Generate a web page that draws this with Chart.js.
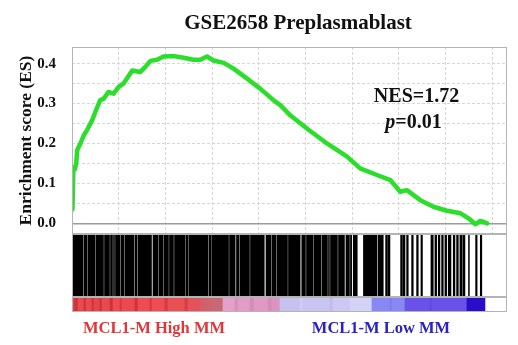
<!DOCTYPE html>
<html><head><meta charset="utf-8">
<script src="https://cdn.jsdelivr.net/npm/chart.js@4.4.1/dist/chart.umd.min.js"></script>
<style>
html,body{margin:0;padding:0;background:#fff;}
#wrap{position:relative;width:518px;height:345px;overflow:hidden;background:#fff;}
canvas{position:absolute;left:0;}
</style></head><body>
<div id="wrap">
<canvas id="es" width="518" height="246" style="top:0px"></canvas>
<canvas id="hits" width="518" height="70" style="top:230px"></canvas>
<canvas id="metric" width="518" height="51" style="top:294px"></canvas>
</div>
<script>
// ---------- data ----------
const titleText = 'GSE2658 Preplasmablast';
const yAxisTitle = 'Enrichment score (ES)';
const nesText = 'NES=1.72';
const pName = 'p';
const pValueText = '=0.01';
const groupLabels = ['MCL1-M High MM', 'MCL1-M Low MM'];

const rankMax = 9315;
const rankTicks = [0, 1000, 2000, 3000, 4000, 5000, 6000, 7000, 8000, 9000];
const esTicks = [0, 0.05, 0.1, 0.15, 0.2, 0.25, 0.3, 0.35, 0.4];

const esRanks = [10, 30, 60, 90, 110, 180, 250, 320, 430, 500, 600, 680, 780, 890, 1000, 1100, 1290, 1460, 1570, 1680, 1820, 1960, 2180, 2390, 2600, 2750, 2890, 3030, 3250, 3460, 3750, 4030, 4320, 4460, 4680, 5030, 5460, 5890, 6170, 6530, 6820, 7030, 7170, 7460, 7740, 8030, 8320, 8490, 8640, 8740, 8800, 8890];
const esValues = [0.035, 0.14, 0.135, 0.15, 0.183, 0.2, 0.22, 0.233, 0.258, 0.279, 0.308, 0.3125, 0.329, 0.325, 0.342, 0.35, 0.383, 0.379, 0.392, 0.407, 0.41, 0.418, 0.419, 0.415, 0.41, 0.41, 0.418, 0.408, 0.402, 0.3875, 0.3625, 0.3375, 0.308, 0.296, 0.27, 0.2375, 0.2, 0.167, 0.1375, 0.121, 0.108, 0.079, 0.083, 0.058, 0.0415, 0.0315, 0.025, 0.0125, -0.0025, 0.006, 0.004, 0.0];

const hitStart = [0, 253, 338, 518, 696, 824, 889, 931, 1053, 1130, 1349, 1413, 1734, 1858, 1965, 2087, 2195, 2447, 2499, 2933, 2993, 3351, 3389, 3522, 3593, 3822, 4154, 4286, 4393, 4635, 4920, 5021, 5177, 5357, 5492, 5535, 5706, 5866, 5963, 6023, 6241, 6551, 6716, 6772, 7037, 7093, 7166, 7273, 7380, 7472, 7686, 7772, 7843, 7915, 7986, 8057, 8164, 8236, 8307, 8378, 8491, 8643, 8743];
const hitEnd   = [231, 317, 497, 674, 803, 867, 910, 1032, 1109, 1327, 1392, 1702, 1837, 1944, 2066, 2173, 2426, 2477, 2912, 2976, 3336, 3372, 3494, 3571, 3800, 4117, 4265, 4372, 4614, 4886, 4999, 5156, 5335, 5470, 5513, 5684, 5834, 5941, 5988, 6108, 6524, 6665, 6755, 6808, 7076, 7130, 7200, 7307, 7414, 7504, 7736, 7808, 7879, 7950, 8022, 8115, 8200, 8272, 8357, 8414, 8509, 8675, 8775];

const metricBreaks = [0, 64, 128, 257, 300, 428, 471, 599, 642, 814, 878, 1028, 1071, 1349, 1413, 1670, 1713, 1991, 2055, 2419, 2484, 2740, 2847, 2998, 3233, 3490, 3554, 3811, 3897, 4197, 4282, 4454, 4882, 4946, 5524, 5589, 5952, 6423, 6808, 6851, 7130, 7665, 7708, 8457, 8843];
const metricValues = [0.9, 1.0, 0.82, 1.0, 0.82, 1.0, 0.85, 1.0, 0.82, 1.0, 0.8, 0.95, 0.82, 1.0, 0.8, 0.95, 0.8, 0.95, 0.78, 0.92, 0.75, 0.68, 0.64, 0.6, 0.42, 0.32, 0.4, 0.3, 0.38, 0.3, 0.35, 0.12, 0.06, 0.1, 0.15, 0.08, 0.02, -0.2, -0.26, -0.2, -0.45, -0.5, -0.45, -0.85];

// ---------- styles ----------
const SERIF = '"Liberation Serif", "Times New Roman", serif';
const frameColor = '#b4b4b4';
const palette = [[1.0,[206,50,56]],[0.8,[236,76,82]],[0.6,[200,104,116]],[0.42,[228,160,200]],[0.3,[212,140,184]],[0.12,[198,194,240]],[0.0,[214,214,250]],[-0.2,[136,136,244]],[-0.45,[104,82,234]],[-0.85,[40,14,200]]];
function metricColor(v) {
  if (v >= palette[0][0]) return 'rgb(' + palette[0][1].join(',') + ')';
  for (let i = 0; i < palette.length - 1; i++) {
    const [a, ca] = palette[i], [b, cb] = palette[i + 1];
    if (v <= a && v >= b) {
      const t = (a - v) / (a - b);
      const c = ca.map((x, k) => Math.round(x + (cb[k] - x) * t));
      return 'rgb(' + c.join(',') + ')';
    }
  }
  return 'rgb(' + palette[palette.length - 1][1].join(',') + ')';
}

const framePlugin = {
  id: 'frame',
  afterDraw(chart) {
    const a = chart.chartArea, ctx = chart.ctx;
    ctx.save();
    ctx.strokeStyle = frameColor;
    ctx.lineWidth = 1;
    const l = Math.round(a.left) + 0.5, t = Math.round(a.top) + 0.5;
    const r = Math.round(a.right) - 0.5, b = Math.round(a.bottom) - 0.5;
    ctx.strokeRect(l, t, r - l, b - t);
    ctx.restore();
  }
};

const esTextPlugin = {
  id: 'esText',
  afterDraw(chart) {
    const ctx = chart.ctx;
    ctx.save();
    ctx.fillStyle = '#111';
    ctx.textBaseline = 'alphabetic';
    ctx.textAlign = 'center';
    ctx.font = 'bold 21px ' + SERIF;
    ctx.fillText(titleText, 298, 28.5);
    ctx.font = 'bold 20px ' + SERIF;
    ctx.fillText(nesText, 416.5, 101.5);
    ctx.textAlign = 'left';
    ctx.font = 'italic bold 20px ' + SERIF;
    const w1 = ctx.measureText(pName).width;
    ctx.font = 'bold 20px ' + SERIF;
    const w2 = ctx.measureText(pValueText).width;
    const x0 = 413.5 - (w1 + w2) / 2;
    ctx.font = 'italic bold 20px ' + SERIF;
    ctx.fillText(pName, x0, 128.3);
    ctx.font = 'bold 20px ' + SERIF;
    ctx.fillText(pValueText, x0 + w1, 128.3);
    ctx.restore();
  }
};

const groupTextPlugin = {
  id: 'groupText',
  afterDraw(chart) {
    const ctx = chart.ctx;
    ctx.save();
    ctx.textBaseline = 'alphabetic';
    ctx.textAlign = 'center';
    ctx.font = 'bold 16.5px ' + SERIF;
    ctx.fillStyle = '#e0383a';
    ctx.fillText(groupLabels[0], 154, 38.5);
    ctx.fillStyle = '#2a22c4';
    ctx.fillText(groupLabels[1], 381, 38.5);
    ctx.restore();
  }
};

const isMajor = v => Math.abs(v * 10 - Math.round(v * 10)) < 1e-6;

// ---------- enrichment score chart ----------
new Chart(document.getElementById('es'), {
  type: 'line',
  data: {
    datasets: [{
      data: esRanks.map((r, i) => ({ x: r, y: esValues[i] })),
      borderColor: '#2ade2a',
      borderWidth: 4.5,
      pointRadius: 0,
      tension: 0,
      fill: false,
      borderJoinStyle: 'round',
      borderCapStyle: 'round'
    }]
  },
  options: {
    responsive: false,
    animation: false,
    devicePixelRatio: 1,
    layout: { padding: { top: 47, right: 11, bottom: 12, left: 0 } },
    plugins: { legend: { display: false }, tooltip: { enabled: false }, title: { display: false } },
    scales: {
      x: {
        type: 'linear', min: 0, max: rankMax,
        afterBuildTicks: s => { s.ticks = rankTicks.map(v => ({ value: v })); },
        ticks: { display: false },
        grid: { color: '#d6d6d6', lineWidth: 1, drawTicks: false },
        border: { display: false, dash: [3, 2] }
      },
      y: {
        type: 'linear', min: -0.0268, max: 0.4418,
        afterBuildTicks: s => { s.ticks = esTicks.map(v => ({ value: v })); },
        afterFit: s => { s.width = 72; },
        ticks: {
          autoSkip: false,
          padding: 0,
          color: '#111',
          font: { family: SERIF, size: 15, weight: 'bold' },
          callback: v => isMajor(v) ? v.toFixed(1) : ''
        },
        grid: {
          drawTicks: true,
          tickLength: 16,
          tickColor: 'rgba(0,0,0,0)',
          color: c => (c.tick && c.tick.value === 0) ? '#9c9c9c' : '#d6d6d6',
          lineWidth: c => (c.tick && c.tick.value === 0) ? 1.5 : 1
        },
        border: { display: false, dash: c => (c.tick && c.tick.value === 0) ? [] : [3, 2] },
        title: {
          display: true, text: yAxisTitle, color: '#111',
          font: { family: SERIF, size: 17.5, weight: 'bold', lineHeight: 1.2 },
          padding: { top: 16, bottom: 0 }
        }
      }
    }
  },
  plugins: [framePlugin, esTextPlugin]
});

// ---------- hit barcode ----------
new Chart(document.getElementById('hits'), {
  type: 'bar',
  data: {
    labels: ['hits'],
    datasets: [{
      data: hitStart.map((s, i) => ({ x: [s, hitEnd[i]], y: 'hits' })),
      backgroundColor: '#000',
      borderWidth: 0,
      barPercentage: 1,
      categoryPercentage: 1
    }]
  },
  options: {
    indexAxis: 'y',
    responsive: false,
    animation: false,
    devicePixelRatio: 1,
    layout: { padding: { top: 4, right: 11, bottom: 3, left: 72 } },
    plugins: { legend: { display: false }, tooltip: { enabled: false } },
    scales: {
      x: { type: 'linear', min: 0, max: rankMax, display: false },
      y: { type: 'category', display: false }
    }
  },
  plugins: [framePlugin]
});

// ---------- ranked metric colour bar ----------
new Chart(document.getElementById('metric'), {
  type: 'bar',
  data: {
    labels: ['metric'],
    datasets: [{
      data: metricValues.map((v, i) => ({ x: [metricBreaks[i], metricBreaks[i + 1]], y: 'metric' })),
      backgroundColor: metricValues.map(metricColor),
      borderWidth: 0,
      barPercentage: 1,
      categoryPercentage: 1
    }]
  },
  options: {
    indexAxis: 'y',
    responsive: false,
    animation: false,
    devicePixelRatio: 1,
    layout: { padding: { top: 3, right: 11, bottom: 33, left: 72 } },
    plugins: { legend: { display: false }, tooltip: { enabled: false } },
    scales: {
      x: { type: 'linear', min: 0, max: rankMax, display: false },
      y: { type: 'category', display: false }
    }
  },
  plugins: [framePlugin, groupTextPlugin]
});
</script>
</body></html>
